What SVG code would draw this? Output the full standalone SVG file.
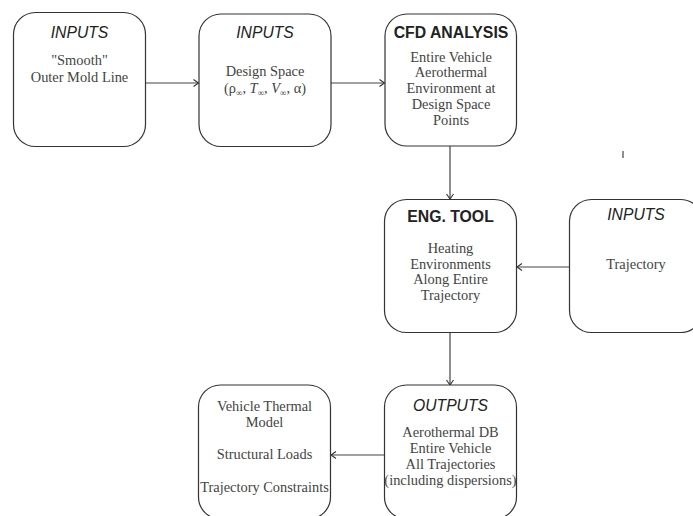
<svg xmlns="http://www.w3.org/2000/svg" width="693" height="516" viewBox="0 0 693 516">
<style>
.box{fill:#fff;stroke:#333;stroke-width:1.2}
.ti{font-family:"Liberation Sans",Arial,sans-serif;font-style:italic;font-size:15.7px;fill:#222;text-anchor:middle}
.tb{font-family:"Liberation Sans",Arial,sans-serif;font-weight:bold;font-size:15.8px;fill:#222;text-anchor:middle}
.bd{font-family:"Liberation Serif","Times New Roman",serif;font-size:14.4px;fill:#444;text-anchor:middle}
.sub{font-size:9px}
.con{stroke:#444;stroke-width:1.2;fill:none}
</style>
<defs>
<marker id="arr" markerWidth="8" markerHeight="10" refX="6" refY="4" orient="auto" markerUnits="userSpaceOnUse">
<path d="M1,0.5 L6,4 L1,7.5" fill="none" stroke="#333" stroke-width="1.1"/>
</marker>
</defs>
<g id="connectors">
<line class="con" x1="145.5" y1="83" x2="198.5" y2="83" marker-end="url(#arr)"/>
<line class="con" x1="331" y1="83" x2="384.5" y2="83" marker-end="url(#arr)"/>
<line class="con" x1="450" y1="146" x2="450" y2="199" marker-end="url(#arr)"/>
<line class="con" x1="569" y1="267" x2="517" y2="267" marker-end="url(#arr)"/>
<line class="con" x1="450" y1="332.5" x2="450" y2="385" marker-end="url(#arr)"/>
<line class="con" x1="384.5" y1="455" x2="331" y2="455" marker-end="url(#arr)"/>
<line class="con" x1="623" y1="151" x2="623" y2="158"/>
</g>
<g id="n1">
<rect class="box" x="13.5" y="12.5" width="132" height="134" rx="22"/>
<text class="ti" x="79.5" y="38">INPUTS</text>
<text class="bd" x="79.5" y="65">"Smooth"</text>
<text class="bd" x="79.5" y="81.5">Outer Mold Line</text>
</g>
<g id="n2">
<rect class="box" x="199" y="14" width="132" height="132.5" rx="22"/>
<text class="ti" x="265" y="38">INPUTS</text>
<text class="bd" x="265" y="76">Design Space</text>
<text class="bd" x="265" y="93">(ρ<tspan class="sub" dy="3">∞</tspan><tspan dy="-3">, </tspan><tspan font-style="italic">T</tspan><tspan class="sub" dy="3">∞</tspan><tspan dy="-3">, </tspan><tspan font-style="italic">V</tspan><tspan class="sub" dy="3">∞</tspan><tspan dy="-3">, α)</tspan></text>
</g>
<g id="n3">
<rect class="box" x="385" y="14" width="131.5" height="132" rx="22"/>
<text class="tb" x="451" y="38">CFD ANALYSIS</text>
<text class="bd" x="451" y="61.5">Entire Vehicle</text>
<text class="bd" x="451" y="77.3">Aerothermal</text>
<text class="bd" x="451" y="93.2">Environment at</text>
<text class="bd" x="451" y="109">Design Space</text>
<text class="bd" x="451" y="125">Points</text>
</g>
<g id="n4">
<rect class="box" x="384.5" y="199.5" width="132" height="133" rx="22"/>
<text class="tb" x="450.5" y="221.5">ENG. TOOL</text>
<text class="bd" x="450.5" y="253.3">Heating</text>
<text class="bd" x="450.5" y="268.8">Environments</text>
<text class="bd" x="450.5" y="284.4">Along Entire</text>
<text class="bd" x="450.5" y="300">Trajectory</text>
</g>
<g id="n5">
<rect class="box" x="569.5" y="199.5" width="133" height="133" rx="22"/>
<text class="ti" x="636" y="219.5">INPUTS</text>
<text class="bd" x="636" y="269.3">Trajectory</text>
</g>
<g id="n6">
<rect class="box" x="384.5" y="385" width="132" height="134" rx="22"/>
<text class="ti" x="450.5" y="410.7">OUTPUTS</text>
<text class="bd" x="450.5" y="437.3">Aerothermal DB</text>
<text class="bd" x="450.5" y="453.3">Entire Vehicle</text>
<text class="bd" x="450.5" y="469.3">All Trajectories</text>
<text class="bd" x="450.5" y="485">(including dispersions)</text>
</g>
<g id="n7">
<rect class="box" x="198.5" y="385" width="132" height="134" rx="22"/>
<text class="bd" x="264.5" y="411">Vehicle Thermal</text>
<text class="bd" x="264.5" y="426.7">Model</text>
<text class="bd" x="264.5" y="459">Structural Loads</text>
<text class="bd" x="264.5" y="491.7">Trajectory Constraints</text>
</g>
</svg>
